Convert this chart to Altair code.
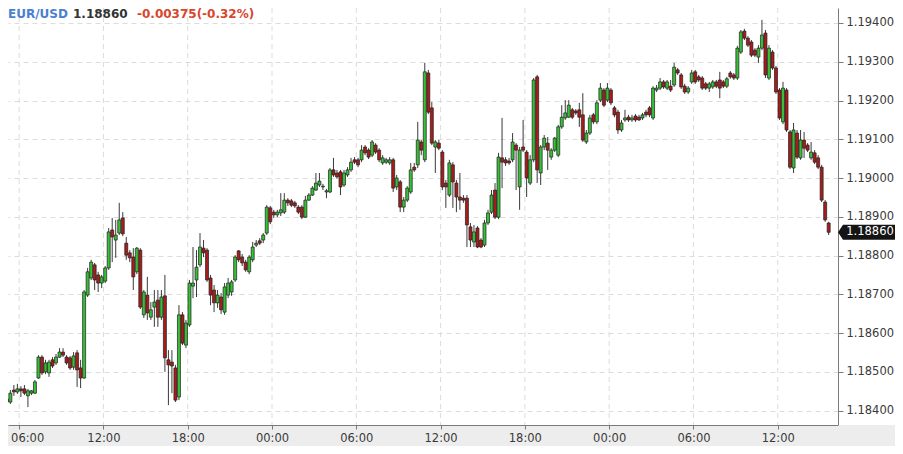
import altair as alt
import pandas as pd
import numpy as np

# ---------------- data (15-minute EUR/USD candles) ----------------
opens = [
1.18430, 1.18422, 1.18453, 1.18448, 1.18456, 1.18456, 1.18438, 1.18445, 1.18445, 1.18484,
1.18538, 1.18500, 1.18497, 1.18531, 1.18523, 1.18538, 1.18551, 1.18538, 1.18536, 1.18512,
1.18549, 1.18510, 1.18484, 1.18698, 1.18742, 1.18776, 1.18750, 1.18729, 1.18734, 1.18768,
1.18866, 1.18840, 1.18858, 1.18897, 1.18832, 1.18807, 1.18796, 1.18758, 1.18814, 1.18647,
1.18698, 1.18641, 1.18667, 1.18685, 1.18641, 1.18696, 1.18531, 1.18525, 1.18510, 1.18435,
1.18647, 1.18569, 1.18621, 1.18721, 1.18737, 1.18776, 1.18819, 1.18814, 1.18742, 1.18711,
1.18678, 1.18693, 1.18654, 1.18698, 1.18706, 1.18737, 1.18812, 1.18796, 1.18783, 1.18758,
1.18789, 1.18827, 1.18838, 1.18840, 1.18858, 1.18923, 1.18912, 1.18905, 1.18910, 1.18912,
1.18943, 1.18941, 1.18936, 1.18925, 1.18925, 1.18899, 1.18943, 1.18956, 1.18969, 1.18982,
1.18977, 1.18964, 1.18964, 1.19021, 1.19013, 1.19016, 1.18982, 1.19008, 1.19021, 1.19047,
1.19047, 1.19047, 1.19080, 1.19072, 1.19059, 1.19085, 1.19072, 1.19039, 1.19041, 1.19039,
1.19047, 1.18977, 1.18990, 1.18925, 1.18943, 1.18964, 1.19028, 1.19034, 1.19093, 1.19047,
1.19271, 1.19181, 1.19080, 1.19090, 1.19067, 1.18987, 1.18956, 1.19034, 1.18987, 1.18951,
1.18948, 1.18948, 1.18874, 1.18835, 1.18871, 1.18840, 1.18827, 1.18884, 1.18912, 1.18969,
1.18899, 1.19052, 1.19047, 1.19044, 1.19047, 1.19085, 1.18977, 1.19080, 1.19067, 1.18987,
1.19047, 1.19261, 1.19013, 1.19080, 1.19090, 1.19054, 1.19072, 1.19059, 1.19132, 1.19155,
1.19157, 1.19176, 1.19173, 1.19176, 1.19163, 1.19093, 1.19116, 1.19163, 1.19145, 1.19201,
1.19227, 1.19201, 1.19227, 1.19181, 1.19170, 1.19124, 1.19150, 1.19157, 1.19150, 1.19160,
1.19157, 1.19155, 1.19170, 1.19181, 1.19155, 1.19227, 1.19232, 1.19248, 1.19232, 1.19237,
1.19240, 1.19279, 1.19266, 1.19237, 1.19222, 1.19248, 1.19274, 1.19261, 1.19258, 1.19243,
1.19232, 1.19235, 1.19248, 1.19253, 1.19248, 1.19237, 1.19271, 1.19266, 1.19258, 1.19325,
1.19379, 1.19361, 1.19351, 1.19330, 1.19312, 1.19335, 1.19374, 1.19258, 1.19325, 1.19284,
1.19227, 1.19145, 1.19227, 1.19119, 1.19026, 1.19116, 1.19052, 1.19098, 1.19085, 1.19052,
1.19065, 1.19052, 1.19028, 1.18938, 1.18884,
]

closes = [
1.18422, 1.18445, 1.18448, 1.18456, 1.18451, 1.18445, 1.18451, 1.18451, 1.18474, 1.18538,
1.18497, 1.18523, 1.18525, 1.18515, 1.18538, 1.18551, 1.18543, 1.18523, 1.18510, 1.18541,
1.18505, 1.18484, 1.18706, 1.18758, 1.18783, 1.18737, 1.18729, 1.18745, 1.18768, 1.18861,
1.18848, 1.18853, 1.18892, 1.18856, 1.18801, 1.18794, 1.18745, 1.18819, 1.18667, 1.18706,
1.18652, 1.18660, 1.18680, 1.18641, 1.18693, 1.18536, 1.18518, 1.18515, 1.18427, 1.18647,
1.18574, 1.18626, 1.18729, 1.18729, 1.18770, 1.18822, 1.18807, 1.18737, 1.18698, 1.18678,
1.18698, 1.18660, 1.18719, 1.18729, 1.18732, 1.18796, 1.18789, 1.18781, 1.18763, 1.18796,
1.18822, 1.18832, 1.18832, 1.18853, 1.18925, 1.18887, 1.18905, 1.18912, 1.18918, 1.18943,
1.18936, 1.18930, 1.18928, 1.18912, 1.18899, 1.18943, 1.18956, 1.18974, 1.18987, 1.18992,
1.18979, 1.18967, 1.19021, 1.19008, 1.19003, 1.18977, 1.19013, 1.19021, 1.19041, 1.19041,
1.19034, 1.19072, 1.19065, 1.19054, 1.19093, 1.19067, 1.19047, 1.19052, 1.19047, 1.19047,
1.18974, 1.19000, 1.18925, 1.18943, 1.18974, 1.19021, 1.19021, 1.19098, 1.19072, 1.19274,
1.19170, 1.19090, 1.19093, 1.19077, 1.18977, 1.18977, 1.19039, 1.18990, 1.18951, 1.18943,
1.18943, 1.18879, 1.18840, 1.18861, 1.18822, 1.18822, 1.18884, 1.18910, 1.18956, 1.18899,
1.19054, 1.19041, 1.19039, 1.19039, 1.19093, 1.19072, 1.19072, 1.19072, 1.19000, 1.19047,
1.19253, 1.19021, 1.19080, 1.19103, 1.19072, 1.19072, 1.19103, 1.19132, 1.19157, 1.19168,
1.19188, 1.19157, 1.19168, 1.19157, 1.19098, 1.19116, 1.19155, 1.19145, 1.19194, 1.19232,
1.19188, 1.19232, 1.19194, 1.19163, 1.19124, 1.19142, 1.19155, 1.19150, 1.19155, 1.19150,
1.19150, 1.19163, 1.19163, 1.19163, 1.19232, 1.19232, 1.19248, 1.19235, 1.19248, 1.19227,
1.19286, 1.19271, 1.19235, 1.19222, 1.19232, 1.19271, 1.19248, 1.19253, 1.19232, 1.19232,
1.19243, 1.19248, 1.19237, 1.19232, 1.19237, 1.19256, 1.19261, 1.19258, 1.19335, 1.19377,
1.19361, 1.19343, 1.19317, 1.19317, 1.19335, 1.19369, 1.19266, 1.19335, 1.19284, 1.19222,
1.19155, 1.19232, 1.19124, 1.19028, 1.19124, 1.19054, 1.19098, 1.19077, 1.19072, 1.19067,
1.19041, 1.19028, 1.18943, 1.18892, 1.18860,
]

highs = [
1.18435, 1.18453, 1.18466, 1.18469, 1.18463, 1.18466, 1.18456, 1.18453, 1.18479, 1.18543,
1.18543, 1.18531, 1.18531, 1.18538, 1.18546, 1.18561, 1.18561, 1.18543, 1.18541, 1.18551,
1.18556, 1.18531, 1.18711, 1.18768, 1.18789, 1.18781, 1.18758, 1.18750, 1.18773, 1.18871,
1.18897, 1.18892, 1.18936, 1.18912, 1.18848, 1.18814, 1.18819, 1.18822, 1.18819, 1.18711,
1.18745, 1.18680, 1.18711, 1.18711, 1.18711, 1.18750, 1.18556, 1.18556, 1.18518, 1.18672,
1.18654, 1.18634, 1.18737, 1.18822, 1.18814, 1.18858, 1.18840, 1.18819, 1.18750, 1.18724,
1.18711, 1.18703, 1.18729, 1.18742, 1.18737, 1.18801, 1.18814, 1.18804, 1.18789, 1.18801,
1.18835, 1.18840, 1.18845, 1.18858, 1.18930, 1.18928, 1.18918, 1.18918, 1.18961, 1.18961,
1.18948, 1.18946, 1.18941, 1.18930, 1.18930, 1.18954, 1.18961, 1.18979, 1.19013, 1.19013,
1.18985, 1.18972, 1.19026, 1.19052, 1.19021, 1.19021, 1.19021, 1.19028, 1.19052, 1.19054,
1.19052, 1.19085, 1.19085, 1.19077, 1.19098, 1.19090, 1.19077, 1.19059, 1.19052, 1.19054,
1.19052, 1.19008, 1.18995, 1.18951, 1.18979, 1.19039, 1.19039, 1.19145, 1.19098, 1.19297,
1.19279, 1.19196, 1.19098, 1.19098, 1.19072, 1.18995, 1.19047, 1.19041, 1.18995, 1.19013,
1.18956, 1.18956, 1.18884, 1.18879, 1.18876, 1.18845, 1.18892, 1.18918, 1.18969, 1.18987,
1.19065, 1.19155, 1.19054, 1.19052, 1.19116, 1.19090, 1.19080, 1.19150, 1.19072, 1.19059,
1.19258, 1.19266, 1.19085, 1.19111, 1.19106, 1.19077, 1.19106, 1.19137, 1.19188, 1.19201,
1.19201, 1.19181, 1.19178, 1.19194, 1.19219, 1.19124, 1.19163, 1.19168, 1.19201, 1.19245,
1.19232, 1.19245, 1.19232, 1.19186, 1.19176, 1.19150, 1.19176, 1.19163, 1.19163, 1.19165,
1.19163, 1.19168, 1.19176, 1.19186, 1.19237, 1.19240, 1.19258, 1.19253, 1.19253, 1.19253,
1.19297, 1.19284, 1.19271, 1.19243, 1.19237, 1.19279, 1.19279, 1.19266, 1.19263, 1.19248,
1.19248, 1.19253, 1.19253, 1.19274, 1.19253, 1.19261, 1.19276, 1.19271, 1.19341, 1.19382,
1.19385, 1.19366, 1.19356, 1.19335, 1.19343, 1.19408, 1.19382, 1.19343, 1.19330, 1.19289,
1.19232, 1.19248, 1.19232, 1.19124, 1.19142, 1.19124, 1.19124, 1.19119, 1.19090, 1.19093,
1.19072, 1.19059, 1.19034, 1.18943, 1.18887,
]

lows = [
1.18417, 1.18417, 1.18438, 1.18443, 1.18435, 1.18440, 1.18409, 1.18440, 1.18443, 1.18482,
1.18492, 1.18494, 1.18487, 1.18510, 1.18518, 1.18536, 1.18538, 1.18518, 1.18505, 1.18505,
1.18461, 1.18458, 1.18482, 1.18693, 1.18737, 1.18711, 1.18706, 1.18716, 1.18729, 1.18763,
1.18783, 1.18794, 1.18853, 1.18850, 1.18789, 1.18783, 1.18711, 1.18752, 1.18662, 1.18639,
1.18634, 1.18634, 1.18616, 1.18616, 1.18634, 1.18500, 1.18414, 1.18445, 1.18422, 1.18427,
1.18569, 1.18561, 1.18616, 1.18690, 1.18693, 1.18770, 1.18796, 1.18732, 1.18672, 1.18654,
1.18665, 1.18649, 1.18647, 1.18690, 1.18696, 1.18732, 1.18783, 1.18773, 1.18758, 1.18752,
1.18783, 1.18822, 1.18827, 1.18832, 1.18853, 1.18881, 1.18897, 1.18899, 1.18902, 1.18907,
1.18928, 1.18925, 1.18923, 1.18907, 1.18894, 1.18897, 1.18941, 1.18954, 1.18967, 1.18977,
1.18969, 1.18948, 1.18961, 1.19003, 1.18998, 1.18956, 1.18977, 1.19003, 1.19016, 1.19036,
1.19028, 1.19041, 1.19059, 1.19049, 1.19054, 1.19062, 1.19041, 1.19034, 1.19036, 1.19034,
1.18964, 1.18969, 1.18912, 1.18912, 1.18938, 1.18959, 1.19016, 1.19026, 1.19059, 1.19041,
1.19165, 1.19085, 1.19013, 1.19072, 1.18969, 1.18923, 1.18951, 1.18923, 1.18912, 1.18918,
1.18936, 1.18822, 1.18822, 1.18822, 1.18819, 1.18819, 1.18822, 1.18879, 1.18907, 1.18894,
1.18894, 1.18974, 1.19031, 1.19034, 1.19041, 1.18969, 1.18918, 1.19067, 1.18951, 1.18982,
1.19041, 1.18987, 1.18982, 1.19072, 1.19021, 1.19047, 1.19067, 1.19054, 1.19127, 1.19150,
1.19155, 1.19152, 1.19163, 1.19132, 1.19093, 1.19088, 1.19111, 1.19139, 1.19139, 1.19196,
1.19183, 1.19196, 1.19188, 1.19157, 1.19114, 1.19119, 1.19145, 1.19145, 1.19145, 1.19145,
1.19147, 1.19150, 1.19157, 1.19157, 1.19150, 1.19222, 1.19227, 1.19230, 1.19227, 1.19222,
1.19235, 1.19266, 1.19230, 1.19217, 1.19217, 1.19243, 1.19243, 1.19248, 1.19227, 1.19227,
1.19222, 1.19230, 1.19232, 1.19206, 1.19232, 1.19232, 1.19256, 1.19253, 1.19253, 1.19320,
1.19356, 1.19338, 1.19312, 1.19312, 1.19297, 1.19330, 1.19258, 1.19253, 1.19279, 1.19217,
1.19150, 1.19139, 1.19119, 1.19023, 1.19013, 1.19049, 1.19047, 1.19052, 1.19067, 1.19047,
1.19036, 1.19023, 1.18938, 1.18887, 1.18853,
]

first_candle_start = "2021-06-15 05:00:00"
x_tick_labels = ["2021-06-15 06:00", "2021-06-15 12:00", "2021-06-15 18:00",
                 "2021-06-16 00:00", "2021-06-16 06:00", "2021-06-16 12:00",
                 "2021-06-16 18:00", "2021-06-17 00:00", "2021-06-17 06:00",
                 "2021-06-17 12:00"]
y_ticks = [1.184, 1.185, 1.186, 1.187, 1.188, 1.189, 1.190, 1.191, 1.192, 1.193, 1.194]

header_texts = ["EUR/USD", "1.18860", "-0.00375(-0.32%)"]
header_colors = ["#4a7fd4", "#333333", "#d9452b"]
last_price = 1.18860

# ---------------- build table ----------------
n = min(len(opens), len(closes), len(highs), len(lows))
starts = pd.date_range(first_candle_start, periods=n, freq="15min")
centers = starts + pd.Timedelta(minutes=7, seconds=30)
df = pd.DataFrame({
    "t": centers.strftime("%Y-%m-%dT%H:%M:%SZ"),
    "open": opens[:n], "close": closes[:n],
    "high": highs[:n], "low": lows[:n],
})
df["dir"] = np.where(df["close"] >= df["open"], "up", "down")

W, H = 830, 417
FONT = "DejaVu Sans"


def dt(s):
    ts = pd.Timestamp(s)
    return alt.DateTime(year=ts.year, month=ts.month, date=ts.day,
                        hours=ts.hour, minutes=ts.minute, seconds=ts.second, utc=True)


xscale = alt.Scale(type="utc", domain=[dt("2021-06-15 05:33:45"), dt("2021-06-17 15:56:00")])
yscale = alt.Scale(domain=[1.183628, 1.194387], nice=False, zero=False)

x_axis = alt.Axis(values=[dt(s) for s in x_tick_labels],
                  labelExpr="utcFormat(datum.value, '%H:%M')",
                  labelOffset={"condition": {"test": "datum.index == 0", "value": 8}, "value": 0},
                  grid=False, zindex=1, domainColor="#7a7a7a", tickColor="#7a7a7a",
                  tickSize=4, labelPadding=3, labelFont=FONT, labelFontSize=11.5,
                  labelColor="#3a3a3a", title=None, labelOverlap=False, labelFlush=False)
y_axis = alt.Axis(orient="right", values=y_ticks, format=".5f", grid=True,
                  gridDash=[5, 4], gridColor="#dcdcdc", domainColor="#7a7a7a",
                  tickColor="#7a7a7a", tickSize=5, labelPadding=3, labelFont=FONT,
                  labelFontSize=11.5, labelColor="#3a3a3a", title=None, zindex=0)

# bottom gray strip (axis background)
strip = alt.Chart(pd.DataFrame({"a": [0]})).mark_rect(color="#ededed").encode(
    x=alt.value(0), x2=alt.value(W + 57), y=alt.value(H), y2=alt.value(H + 21))

# vertical dashed grid at the time ticks
tick_df = pd.DataFrame({"t": [pd.Timestamp(s).strftime("%Y-%m-%dT%H:%M:%SZ") for s in x_tick_labels]})
vgrid = alt.Chart(tick_df).mark_rule(strokeDash=[5, 4], color="#dcdcdc", strokeWidth=1).encode(
    x=alt.X("t:T", scale=xscale, axis=x_axis))

base = alt.Chart(df).encode(x=alt.X("t:T", scale=xscale, axis=x_axis))

wicks = base.mark_rule(color="#3a3a3a", strokeWidth=1, clip=True).encode(
    y=alt.Y("low:Q", scale=yscale, axis=y_axis), y2="high:Q")

bodies = base.mark_bar(size=3, stroke="#1e1e1e", strokeWidth=0.7, clip=True).encode(
    y=alt.Y("open:Q", scale=yscale, axis=y_axis), y2="close:Q",
    color=alt.Color("dir:N", scale=alt.Scale(domain=["up", "down"], range=["#37bf37", "#a81c1c"]),
                    legend=None))

# header texts
hx = [0, 65, 129]
headers = []
for txt, col, xx in zip(header_texts, header_colors, hx):
    headers.append(alt.Chart(pd.DataFrame({"a": [0]})).mark_text(
        align="left", baseline="alphabetic", font=FONT, fontSize=12, fontWeight="bold",
        color=col).encode(x=alt.value(xx), y=alt.value(10), text=alt.value(txt)))

# last-price tag
tag_df = pd.DataFrame({"p": [last_price], "label": [f"{last_price:.5f}"]})
tag = alt.Chart(tag_df).mark_point(
    shape="M-1.19,0L-1,-0.29L1,-0.29L1,0.29L-1,0.29Z", size=2704, filled=True,
    color="#141414", opacity=1).encode(
    x=alt.value(W + 31), y=alt.Y("p:Q", scale=yscale, axis=y_axis))
tag_text = alt.Chart(tag_df).mark_text(
    color="white", font=FONT, fontSize=11.5, align="center", baseline="middle").encode(
    x=alt.value(W + 32), y=alt.Y("p:Q", scale=yscale, axis=y_axis), text="label:N")

chart = alt.layer(strip, vgrid, wicks, bodies, *headers, tag, tag_text).properties(
    width=W, height=H,
    autosize=alt.AutoSizeParams(type="none"),
    padding={"left": 0, "top": 0, "right": 57, "bottom": 21},
    background="white",
).configure_view(stroke=None, fill="white")

chart.save("out.html", embed_options={"renderer": "svg", "actions": False})
